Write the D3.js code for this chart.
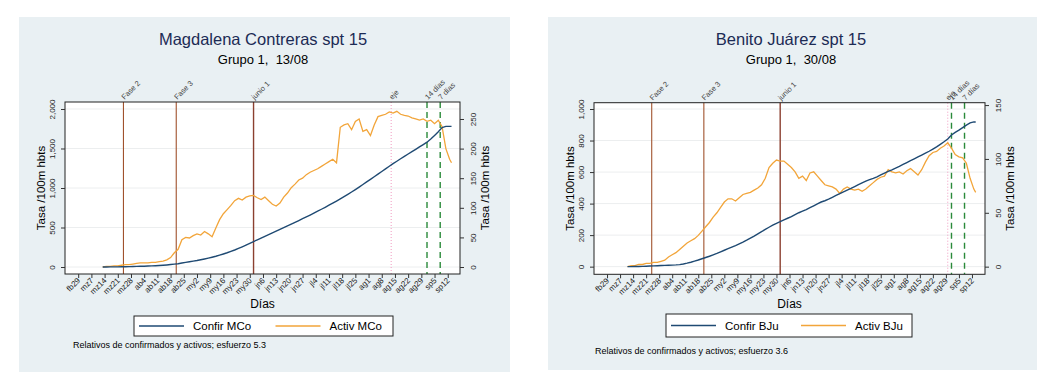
<!DOCTYPE html>
<html>
<head>
<meta charset="utf-8">
<script src="https://cdn.jsdelivr.net/npm/d3@7"></script>
<style>
body { margin: 0; background: #fff; }
svg { font-family: "Liberation Sans", Arial, Helvetica, sans-serif; }
</style>
</head>
<body>
<svg id="chart" width="1041" height="378"></svg>
<script>
// days counted from 29 Feb 2020 (day 0)
var tickDays = [0, 7, 14, 21, 28, 35, 42, 49, 56, 63, 70, 77, 84, 91, 98, 105, 112, 119, 126,
    133, 140, 147, 154, 161, 168, 175, 182, 189, 196];
var tickLabels = ['fb29', 'mz7', 'mz14', 'mz21', 'mz28', 'ab4', 'ab11', 'ab18', 'ab25', 'my2',
    'my9', 'my16', 'my23', 'my30', 'jn6', 'jn13', 'jn20', 'jn27', 'jl4', 'jl11', 'jl18', 'jl25',
    'ag1', 'ag8', 'ag15', 'ag22', 'ag29', 'sp5', 'sp12'];

var eventNames = ['Fase 2', 'Fase 3', 'junio 1', 'eje', '14 días', '7 días'];
var eventsMCo = [24, 52, 93, 166, 185, 192];
var eventsBJu = [24, 52, 93, 183, 185, 192];

// Magdalena Contreras
var daysMCo = [13, 15, 17, 19, 21, 23, 25, 27, 29, 31, 33, 35, 37, 39, 41, 43, 45, 47, 49, 51,
    53, 55, 57, 59, 61, 63, 65, 67, 69, 71, 73, 75, 77, 79, 81, 83, 85, 87, 89, 91,
    93, 95, 97, 99, 101, 103, 105, 107, 109, 111, 113, 115, 117, 119, 121, 123, 125, 127, 129, 131,
    133, 135, 137, 139, 141, 143, 145, 147, 149, 151, 153, 155, 157, 159, 161, 163, 165, 167, 169, 171,
    173, 175, 177, 179, 181, 183, 185, 187, 189, 191, 193, 195, 197, 198];
var confirMCo = [0, 0, 1, 1, 2, 3, 4, 5, 6, 8, 9, 10, 12, 14, 16, 19, 22, 26, 31, 36,
    42, 50, 58, 66, 74, 82, 92, 102, 113, 124, 136, 150, 165, 180, 197, 215, 235, 256, 278, 300,
    322, 344, 366, 388, 410, 432, 454, 476, 498, 520, 542, 565, 588, 611, 634, 658, 682, 706, 731, 756,
    782, 808, 835, 862, 890, 919, 949, 980, 1012, 1044, 1077, 1110, 1143, 1176, 1209, 1242, 1275, 1308, 1339, 1370,
    1400, 1430, 1460, 1490, 1520, 1550, 1580, 1620, 1665, 1712, 1765, 1780, 1780, 1780];
var activMCo = [0, 1, 1, 2, 2, 3, 4, 4, 5, 6, 7, 7, 7, 8, 8, 9, 10, 12, 16, 24,
    30, 46, 50, 49, 53, 56, 54, 60, 56, 51, 66, 80, 90, 97, 104, 112, 116, 113, 118, 120,
    121, 117, 114, 118, 112, 106, 103, 108, 118, 125, 134, 140, 147, 150, 156, 160, 163, 166, 170, 174,
    178, 182, 176, 236, 240, 242, 232, 246, 250, 229, 232, 222, 240, 254, 256, 258, 262, 260, 263, 258,
    256, 255, 252, 250, 248, 250, 246, 248, 242, 248, 237, 200, 182, 176];

// Benito Juárez
var daysBJu = [11, 13, 15, 17, 19, 21, 23, 25, 27, 29, 31, 33, 35, 37, 39, 41, 43, 45, 47, 49,
    51, 53, 55, 57, 59, 61, 63, 65, 67, 69, 71, 73, 75, 77, 79, 81, 83, 85, 87, 89,
    91, 93, 95, 97, 99, 101, 103, 105, 107, 109, 111, 113, 115, 117, 119, 121, 123, 125, 127, 129,
    131, 133, 135, 137, 139, 141, 143, 145, 147, 149, 151, 153, 155, 157, 159, 161, 163, 165, 167, 169,
    171, 173, 175, 177, 179, 181, 183, 185, 187, 189, 191, 193, 195, 197, 198];
var confirBJu = [0, 0, 1, 1, 2, 3, 4, 5, 6, 7, 8, 9, 10, 11, 13, 17, 22, 28, 35, 42,
    50, 58, 66, 75, 84, 94, 104, 114, 124, 134, 145, 156, 168, 181, 194, 208, 222, 236, 250, 263,
    275, 285, 296, 307, 318, 330, 342, 352, 362, 374, 386, 398, 410, 418, 428, 440, 452, 463, 475, 486,
    496, 508, 520, 532, 543, 552, 560, 570, 582, 594, 604, 614, 625, 636, 648, 660, 672, 684, 696, 708,
    720, 732, 746, 760, 776, 792, 810, 835, 852, 866, 882, 898, 912, 918, 918];
var activBJu = [0, 1, 1, 2, 2, 3, 3, 4, 4, 5, 6, 9, 11, 13, 16, 19, 22, 24, 26, 29,
    33, 37, 41, 46, 50, 55, 60, 63, 63, 61, 64, 67, 68, 69, 71, 73, 76, 82, 92, 96,
    99, 98, 98, 95, 92, 88, 82, 84, 80, 87, 88, 84, 80, 76, 75, 74, 72, 68, 72, 74,
    72, 71, 72, 70, 72, 75, 78, 81, 83, 84, 90, 88, 87, 88, 86, 89, 91, 88, 85, 90,
    97, 103, 106, 107, 110, 112, 115, 110, 104, 102, 101, 96, 82, 72, 69];

var leftTicksMCo = [0, 500, 1000, 1500, 2000];
var rightTicksMCo = [0, 50, 100, 150, 200, 250];
var leftTicksBJu = [0, 200, 400, 600, 800, 1000];
var rightTicksBJu = [0, 50, 100, 150];

var svg = d3.select('#chart');

function drawPanel(p) {
    var g = svg.append('g');

    g.append('rect')
        .attr('x', p.bg[0]).attr('y', p.bg[1])
        .attr('width', p.bg[2] - p.bg[0]).attr('height', p.bg[3] - p.bg[1])
        .attr('fill', '#e9f0f3');
    g.append('rect')
        .attr('x', p.x0).attr('y', p.y0)
        .attr('width', p.x1 - p.x0).attr('height', p.y1 - p.y0)
        .attr('fill', '#fff');

    var x = d3.scaleLinear().domain(p.xDomain).range([p.x0, p.x1]);
    var yL = d3.scaleLinear().domain(p.yLDomain).range([p.y1, p.y0]);
    var yR = d3.scaleLinear().domain(p.yRDomain).range([p.y1, p.y0]);

    // grid
    g.selectAll('.grid')
        .data(p.leftTicks)
        .enter().append('line')
        .attr('x1', p.x0).attr('x2', p.x1)
        .attr('y1', d => yL(d)).attr('y2', d => yL(d))
        .attr('stroke', '#eceeef')
        .attr('stroke-width', 1);

    // vertical markers
    var evColor = ['#a0522d', '#a0522d', '#8b4030', '#f09ac0', '#2a8a3a', '#2a8a3a'];
    var evDash = [null, null, null, '1,2', '6,4', '6,4'];
    var evWidth = [1.1, 1.1, 1.4, 1, 1.4, 1.4];
    p.events.forEach((d, i) => {
        g.append('line')
            .attr('x1', x(d)).attr('x2', x(d))
            .attr('y1', p.y0).attr('y2', p.y1)
            .attr('stroke', evColor[i])
            .attr('stroke-width', evWidth[i])
            .attr('stroke-dasharray', evDash[i]);
        g.append('text')
            .attr('transform', 'translate(' + (x(d) + 1) + ',' + (p.y0 - 2) + ') rotate(-45)')
            .attr('font-size', 7.5)
            .attr('fill', '#444')
            .text(eventNames[i]);
    });

    // series
    var confLine = d3.line()
        .x((d, i) => x(p.days[i]))
        .y(d => yL(d));
    var actLine = d3.line()
        .x((d, i) => x(p.days[i]))
        .y(d => yR(d));
    g.append('path')
        .attr('d', actLine(p.activ))
        .attr('fill', 'none')
        .attr('stroke', '#f2a53a')
        .attr('stroke-width', 1.3);
    g.append('path')
        .attr('d', confLine(p.confir))
        .attr('fill', 'none')
        .attr('stroke', '#1f4a73')
        .attr('stroke-width', 1.4);

    // frame
    g.append('rect')
        .attr('x', p.x0).attr('y', p.y0)
        .attr('width', p.x1 - p.x0).attr('height', p.y1 - p.y0)
        .attr('fill', 'none')
        .attr('stroke', '#222')
        .attr('stroke-width', 1);

    // axes
    var fmt = d3.format(',');
    var axL = g.append('g')
        .attr('transform', 'translate(' + p.x0 + ',0)')
        .call(d3.axisLeft(yL).tickValues(p.leftTicks).tickSize(4).tickSizeOuter(0).tickFormat(fmt));
    axL.selectAll('text')
        .attr('x', null).attr('dy', '0.35em')
        .attr('transform', 'translate(-13,0) rotate(-90)')
        .attr('text-anchor', 'middle');
    var axR = g.append('g')
        .attr('transform', 'translate(' + p.x1 + ',0)')
        .call(d3.axisRight(yR).tickValues(p.rightTicks).tickSize(4).tickSizeOuter(0).tickFormat(fmt));
    axR.selectAll('text')
        .attr('x', null).attr('dy', '0.35em')
        .attr('transform', 'translate(13,0) rotate(-90)')
        .attr('text-anchor', 'middle');
    var axB = g.append('g')
        .attr('transform', 'translate(0,' + p.y1 + ')')
        .call(d3.axisBottom(x).tickValues(tickDays).tickSize(4).tickSizeOuter(0)
            .tickFormat((d, i) => tickLabels[i]));
    axB.selectAll('text')
        .attr('y', null).attr('dy', null)
        .attr('transform', 'translate(2,7) rotate(-45)')
        .attr('text-anchor', 'end');
    [axL, axR, axB].forEach(a => {
        a.select('.domain').remove();
        a.attr('font-size', 8).attr('font-family', null);
        a.selectAll('line').attr('stroke', '#333');
        a.selectAll('text').attr('fill', '#222');
    });

    // axis titles
    g.append('text')
        .attr('transform', 'translate(' + (p.x0 - 24) + ',' + ((p.y0 + p.y1) / 2) + ') rotate(-90)')
        .attr('dy', '0.35em')
        .attr('text-anchor', 'middle')
        .attr('font-size', 11.5)
        .text('Tasa /100m hbts');
    g.append('text')
        .attr('transform', 'translate(' + (p.x1 + 25) + ',' + ((p.y0 + p.y1) / 2) + ') rotate(-90)')
        .attr('dy', '0.35em')
        .attr('text-anchor', 'middle')
        .attr('font-size', 11.5)
        .text('Tasa /100m hbts');
    g.append('text')
        .attr('x', (p.x0 + p.x1) / 2).attr('y', 308)
        .attr('text-anchor', 'middle')
        .attr('font-size', 12)
        .text('Días');

    // titles
    g.append('text')
        .attr('x', p.cx).attr('y', 45)
        .attr('text-anchor', 'middle')
        .attr('font-size', 16.5)
        .attr('fill', '#1c2b55')
        .text(p.title);
    g.append('text')
        .attr('x', p.cx).attr('y', 63.5)
        .attr('text-anchor', 'middle')
        .attr('font-size', 13)
        .style('white-space', 'pre')
        .text(p.subtitle);

    // legend
    var lg = p.legend;
    g.append('rect')
        .attr('x', lg.x).attr('y', lg.y)
        .attr('width', lg.w).attr('height', lg.h)
        .attr('fill', '#fff')
        .attr('stroke', '#222');
    var ly = lg.y + lg.h / 2;
    var items = [
        { color: '#1f4a73', label: p.names[0], x: lg.x + 5 },
        { color: '#f2a53a', label: p.names[1], x: lg.x + lg.w / 2 + 12 }
    ];
    items.forEach(it => {
        g.append('line')
            .attr('x1', it.x).attr('x2', it.x + 45)
            .attr('y1', ly).attr('y2', ly)
            .attr('stroke', it.color)
            .attr('stroke-width', 1.3);
        g.append('text')
            .attr('x', it.x + 54).attr('y', ly)
            .attr('dy', '0.36em')
            .attr('font-size', 11.5)
            .text(it.label);
    });

    g.append('text')
        .attr('x', p.noteX).attr('y', p.noteY)
        .attr('dy', '0.35em')
        .attr('font-size', 9)
        .text(p.note);
}

drawPanel({
    bg: [19, 17, 510, 372],
    x0: 65, x1: 460, y0: 102, y1: 274,
    xDomain: [-7, 202.5],
    yLDomain: [-88.6, 2088.6],
    yRDomain: [-11.8, 278.7],
    leftTicks: leftTicksMCo, rightTicks: rightTicksMCo,
    days: daysMCo, confir: confirMCo, activ: activMCo,
    events: eventsMCo,
    cx: 263,
    title: 'Magdalena Contreras spt 15',
    subtitle: 'Grupo 1,  13/08',
    names: ['Confir MCo', 'Activ MCo'],
    legend: { x: 134, y: 316, w: 259, h: 20 },
    note: 'Relativos de confirmados y activos; esfuerzo 5.3',
    noteX: 73, noteY: 345
});

drawPanel({
    bg: [548, 17, 1037, 370],
    x0: 594, x1: 985, y0: 102.7, y1: 274.3,
    xDomain: [-7, 203],
    yLDomain: [-48.5, 1040],
    yRDomain: [-7.1, 152.2],
    leftTicks: leftTicksBJu, rightTicks: rightTicksBJu,
    days: daysBJu, confir: confirBJu, activ: activBJu,
    events: eventsBJu,
    cx: 791,
    title: 'Benito Juárez spt 15',
    subtitle: 'Grupo 1,  30/08',
    names: ['Confir BJu', 'Activ BJu'],
    legend: { x: 666, y: 314, w: 246, h: 23 },
    note: 'Relativos de confirmados y activos; esfuerzo 3.6',
    noteX: 595, noteY: 351
});
</script>
</body>
</html>
